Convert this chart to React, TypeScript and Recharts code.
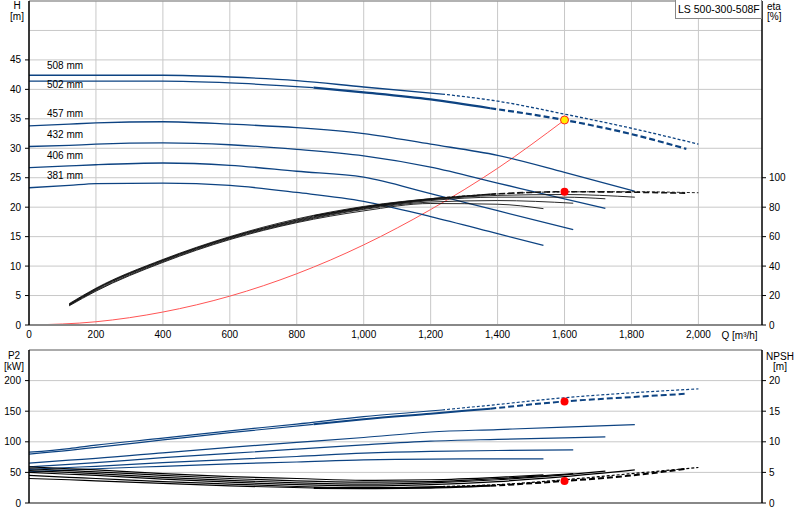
import React from 'react';
import { LineChart, Line, XAxis, YAxis, CartesianGrid, ReferenceDot, ReferenceLine } from 'recharts';

// impeller diameters (curve labels)
const diameters = ['508 mm', '502 mm', '457 mm', '432 mm', '406 mm', '381 mm'];

// flow Q [m³/h] per impeller
const q508 = [0, 120, 200, 400, 600, 800, 1000, 1234, 1400, 1600, 1800, 2000];
const q502 = [0, 120, 200, 400, 600, 850, 1000, 1200, 1378, 1600, 1800, 1964];
const q457 = [0, 120, 200, 400, 600, 800, 1000, 1200, 1400, 1600, 1810];
const q432 = [0, 120, 200, 400, 600, 800, 1000, 1200, 1400, 1600, 1722];
const q406 = [0, 120, 200, 400, 600, 800, 1000, 1200, 1400, 1626];
const q381 = [0, 120, 200, 400, 600, 800, 1000, 1200, 1400, 1537];

// head H [m]
const h508 = [42.4, 42.4, 42.4, 42.4, 42.1, 41.5, 40.4, 39.2, 38.0, 35.8, 33.4, 30.7];
const h502 = [41.4, 41.4, 41.4, 41.4, 41.1, 40.3, 39.5, 38.3, 36.8, 34.8, 32.4, 29.9];
const h457 = [33.8, 34.1, 34.3, 34.5, 34.1, 33.5, 32.5, 30.7, 28.8, 25.9, 22.7];
const h432 = [30.3, 30.5, 30.7, 30.9, 30.6, 29.8, 28.7, 26.8, 24.1, 21.4, 19.8];
const h406 = [26.7, 27.0, 27.2, 27.5, 27.1, 26.1, 25.1, 22.3, 19.4, 16.2];
const h381 = [23.3, 23.7, 24.0, 24.1, 23.7, 22.5, 21.0, 18.4, 15.5, 13.5];

// efficiency eta [%]
const eta508 = [null, 14.5, 25, 44.5, 60, 72, 80.5, 86.5, 89, 90.4, 90.5, 89.8];
const eta502 = [null, 14, 24.5, 44, 59.5, 74, 80, 85.5, 88.8, 90.5, 90.2, 89.5];
const eta457 = [null, 14, 24.5, 44, 59.5, 71, 79.5, 85, 88, 88.6, 86.8];
const eta432 = [null, 13.5, 24, 43.5, 59, 70.5, 79, 84.5, 86.8, 86.8, 85.7];
const eta406 = [null, 13.5, 23.5, 43, 58.5, 70, 78.5, 83.5, 84.5, 82.7];
const eta381 = [null, 13, 23, 42.5, 58, 69.5, 77.5, 82.5, 82, 79];

// shaft power P2 [kW]
const p508 = [83, 89, 94.5, 106, 118, 129, 141, 152, 161, 172, 180, 186.5];
const p502 = [80, 86, 91, 103, 115, 128.5, 137, 146, 154, 166, 173, 178.5];
const p457 = [65, 70, 73, 82, 91, 99, 107, 116, 120, 124, 128];
const p432 = [59, 63, 66, 74, 81, 88, 95, 101, 104, 106.5, 108];
const p406 = [55, 58, 60, 66, 71, 76, 81.5, 84.5, 85.8, 86.7];
const p381 = [51, 54, 56, 60, 64, 67, 70.5, 71.8, 72, 72];

// NPSH [m]
const n508 = [4.5, 4.2, 4.0, 3.5, 3.1, 2.7, 2.5, 2.7, 3.0, 3.8, 4.8, 5.8];
const n502 = [4.0, 3.8, 3.6, 3.2, 2.8, 2.45, 2.4, 2.5, 2.8, 3.6, 4.5, 5.6];
const n457 = [5.0, 4.7, 4.5, 3.9, 3.4, 3.0, 2.8, 3.0, 3.5, 4.3, 5.4];
const n432 = [5.3, 5.0, 4.8, 4.2, 3.7, 3.3, 3.1, 3.3, 3.8, 4.6, 5.2];
const n406 = [5.6, 5.3, 5.1, 4.5, 4.0, 3.6, 3.4, 3.5, 4.0, 4.8];
const n381 = [5.9, 5.6, 5.4, 4.8, 4.3, 4.0, 3.7, 3.8, 4.2, 4.6];

// system curve
const qSys = [0, 200, 400, 600, 800, 1000, 1200, 1400, 1600];
const hSys = [0, 0.55, 2.2, 4.9, 8.7, 13.6, 19.6, 26.6, 34.8];

// duty point
const dutyQ = 1600;
const dutyH = 34.8;
const dutyEta = 90.5;
const dutyP2 = 166;
const dutyNpsh = 3.6;

const qTicks = [0, 200, 400, 600, 800, 1000, 1200, 1400, 1600, 1800, 2000];

const BLUE = '#0d4382';
const FONT = '"Liberation Sans", Arial, sans-serif';

type Cfg = { q: number[]; h: number[]; eta: (number | null)[]; p2: number[]; npsh: number[]; thickFrom?: number; dashFrom?: number; dash?: string };

const impellers: Cfg[] = [
  { q: q508, h: h508, eta: eta508, p2: p508, npsh: n508, dashFrom: 1234, dash: '3 2' },
  { q: q502, h: h502, eta: eta502, p2: p502, npsh: n502, thickFrom: 850, dashFrom: 1378, dash: '6 3' },
  { q: q457, h: h457, eta: eta457, p2: p457, npsh: n457 },
  { q: q432, h: h432, eta: eta432, p2: p432, npsh: n432 },
  { q: q406, h: h406, eta: eta406, p2: p406, npsh: n406 },
  { q: q381, h: h381, eta: eta381, p2: p381, npsh: n381 },
];

const toPts = (qs: number[], vs: (number | null)[]) => qs.map((q, i) => ({ q, v: vs[i] }));

function curve(id: string, cfg: Cfg, vs: (number | null)[], color: string, base: number, thick: number, yAxisId: string | number) {
  const all = toPts(cfg.q, vs);
  const segs: { data: any[]; w: number; dash?: string }[] = [];
  if (cfg.thickFrom && cfg.dashFrom) {
    segs.push({ data: all.filter(d => d.q <= cfg.thickFrom!), w: base });
    segs.push({ data: all.filter(d => d.q >= cfg.thickFrom! && d.q <= cfg.dashFrom!), w: thick });
    segs.push({ data: all.filter(d => d.q >= cfg.dashFrom!), w: thick, dash: cfg.dash });
  } else if (cfg.dashFrom) {
    segs.push({ data: all.filter(d => d.q <= cfg.dashFrom!), w: base });
    segs.push({ data: all.filter(d => d.q >= cfg.dashFrom!), w: base, dash: cfg.dash });
  } else {
    segs.push({ data: all, w: base });
  }
  return segs.map((s, i) => (
    <Line
      key={`${id}-${i}`}
      data={s.data}
      dataKey="v"
      type="monotone"
      yAxisId={yAxisId}
      stroke={color}
      strokeWidth={s.w}
      strokeDasharray={s.dash}
      dot={false}
      activeDot={false}
      isAnimationActive={false}
    />
  ));
}

const tickStyle = { fontSize: 10, fill: '#000', fontFamily: FONT };

const App: React.FC = () => {
  return (
    <div style={{ position: 'absolute', left: 0, top: 0, width: 800, height: 520, background: '#fff', fontFamily: FONT }}>
      <div style={{ position: 'absolute', left: 0, top: 0 }}>
        <LineChart width={800} height={345} margin={{ top: 1, right: 0, bottom: 0, left: 0 }}>
          <CartesianGrid stroke="#c8c8c8" horizontalValues={[0, 5, 10, 15, 20, 25, 30, 35, 40, 45, 50]} verticalValues={qTicks} />
          <XAxis
            dataKey="q"
            type="number"
            domain={[0, 2190]}
            ticks={qTicks}
            allowDataOverflow
            tickFormatter={(v: number) => v.toLocaleString('en-US')}
            tickLine={false}
            tickSize={0}
            tickMargin={6}
            height={20}
            axisLine={{ stroke: '#888', strokeWidth: 2 }}
            tick={tickStyle}
          />
          <YAxis
            domain={[0, 55]}
            ticks={[0, 5, 10, 15, 20, 25, 30, 35, 40, 45]}
            width={29}
            tickSize={4}
            tickMargin={4}
            axisLine={{ stroke: '#000', strokeWidth: 1.5 }}
            tickLine={{ stroke: '#000' }}
            tick={tickStyle}
            allowDataOverflow
          />
          <YAxis
            yAxisId="eta"
            orientation="right"
            domain={[0, 220]}
            ticks={[0, 20, 40, 60, 80, 100]}
            width={38}
            tickSize={4}
            tickMargin={3}
            axisLine={{ stroke: '#000', strokeWidth: 1.5 }}
            tickLine={{ stroke: '#000' }}
            tick={tickStyle}
            allowDataOverflow
          />
          <ReferenceLine y={55} stroke="#999" strokeWidth={1.5} />
          <Line
            data={toPts(qSys, hSys)}
            dataKey="v"
            type="monotone"
            stroke="#ff5555"
            strokeWidth={1}
            dot={false}
            activeDot={false}
            isAnimationActive={false}
          />
          {impellers.map((c, i) => curve(`h${i}`, c, c.h, BLUE, 1.3, 2.2, 0))}
          {impellers.map((c, i) => curve(`e${i}`, c, c.eta, '#111', 0.9, 1.6, 'eta'))}
          <ReferenceDot x={dutyQ} y={dutyEta} yAxisId="eta" r={4} fill="#ff0000" stroke="none" />
          <ReferenceDot x={dutyQ} y={dutyH} r={4} fill="#ffee00" stroke="#ff2020" strokeWidth={1} />
        </LineChart>
      </div>
      <div style={{ position: 'absolute', left: 0, top: 340 }}>
        <LineChart width={800} height={180} margin={{ top: 10, right: 0, bottom: 16, left: 0 }}>
          <CartesianGrid stroke="#c8c8c8" horizontalValues={[0, 50, 100, 150, 200, 250]} verticalValues={qTicks} />
          <XAxis
            dataKey="q"
            type="number"
            domain={[0, 2190]}
            ticks={qTicks}
            allowDataOverflow
            tick={false}
            tickLine={false}
            height={1}
            axisLine={{ stroke: '#888', strokeWidth: 2 }}
          />
          <YAxis
            domain={[0, 250]}
            ticks={[0, 50, 100, 150, 200]}
            width={29}
            tickSize={4}
            tickMargin={4}
            axisLine={{ stroke: '#000', strokeWidth: 1.5 }}
            tickLine={{ stroke: '#000' }}
            tick={tickStyle}
            allowDataOverflow
          />
          <YAxis
            yAxisId="npsh"
            orientation="right"
            domain={[0, 25]}
            ticks={[0, 5, 10, 15, 20]}
            width={38}
            tickSize={4}
            tickMargin={3}
            axisLine={{ stroke: '#000', strokeWidth: 1.5 }}
            tickLine={{ stroke: '#000' }}
            tick={tickStyle}
            allowDataOverflow
          />
          <ReferenceLine y={250} stroke="#999" strokeWidth={1.5} />
          {impellers.map((c, i) => curve(`p${i}`, c, c.p2, BLUE, 1.2, 2, 0))}
          {impellers.map((c, i) => curve(`n${i}`, c, c.npsh, '#000', 1.2, 2, 'npsh'))}
          <ReferenceDot x={dutyQ} y={dutyP2} r={4} fill="#ff0000" stroke="none" />
          <ReferenceDot x={dutyQ} y={dutyNpsh} yAxisId="npsh" r={4} fill="#ff0000" stroke="none" />
        </LineChart>
      </div>
      <svg width={800} height={520} style={{ position: 'absolute', left: 0, top: 0, pointerEvents: 'none' }} fontFamily={FONT} fontSize={10} fill="#000">
        <text x={17} y={8.5} textAnchor="middle">H</text>
        <text x={17} y={20} textAnchor="middle">[m]</text>
        <text x={767} y={9.5}>eta</text>
        <text x={767} y={20}>[%]</text>
        <rect x={675.5} y={-1} width={86} height={19.5} fill="#fff" stroke="#888" />
        <text x={678} y={13} fontSize={10.5}>LS 500-300-508F</text>
        {diameters.map((d, i) => (
          <text key={d} x={47} y={[69, 88.3, 117.3, 138.3, 159, 179.3][i]}>{d}</text>
        ))}
        <text x={721.5} y={338.5}>Q [m³/h]</text>
        <text x={14} y={359} textAnchor="middle">P2</text>
        <text x={14} y={369.5} textAnchor="middle">[kW]</text>
        <text x={780} y={359.5} textAnchor="middle">NPSH</text>
        <text x={780} y={370} textAnchor="middle">[m]</text>
      </svg>
    </div>
  );
};

export default App;
